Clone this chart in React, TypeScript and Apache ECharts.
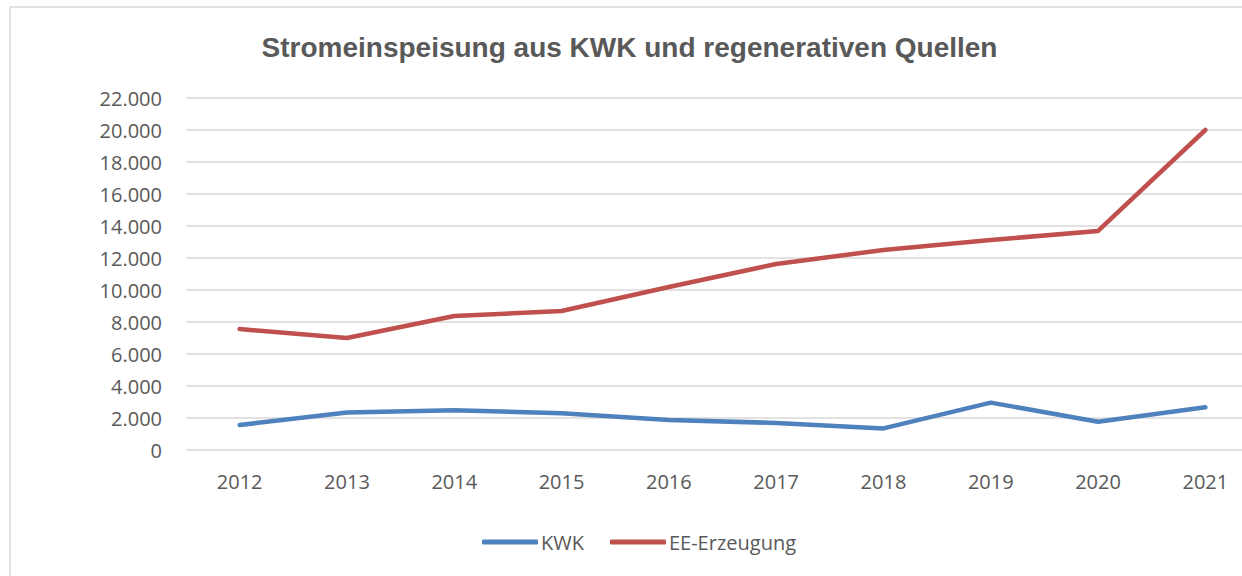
import React, { useEffect, useRef } from "react";
import * as echarts from "echarts";

const years = ["2012", "2013", "2014", "2015", "2016", "2017", "2018", "2019", "2020", "2021"];
const kwk = [1560, 2350, 2480, 2300, 1875, 1690, 1350, 2960, 1770, 2670];
const ee = [7560, 7000, 8375, 8690, 10190, 11625, 12500, 13125, 13690, 20000];
const title = "Stromeinspeisung aus KWK und regenerativen Quellen";

const fmt = (v: number) => String(v).replace(/\B(?=(\d{3})+(?!\d))/g, ".");

export default function App() {
  const ref = useRef<HTMLDivElement>(null);
  useEffect(() => {
    const chart = echarts.init(ref.current!, null, { renderer: "svg" });
    const labelFont = "Open Sans";
    chart.setOption({
      animation: false,
      backgroundColor: "#ffffff",
      title: {
        text: title,
        left: "center",
        top: 28,
        textStyle: { fontFamily: "Liberation Sans", fontSize: 28, fontWeight: "bold", color: "#595959" },
      },
      graphic: [
        {
          type: "rect",
          shape: { x: 10, y: 7, width: 1300, height: 620 },
          style: { fill: "none", stroke: "#d9d9d9", lineWidth: 1.5 },
          silent: true,
        },
      ],
      legend: {
        top: 527,
        left: 477,
        itemWidth: 56,
        itemHeight: 5,
        itemGap: 26,
        icon: "roundRect",
        textStyle: { fontFamily: labelFont, fontSize: 20, color: "#595959", padding: [0, 0, 0, -2] },
        data: ["KWK", "EE-Erzeugung"],
      },
      grid: { left: 186, right: 0, top: 98, bottom: 126 },
      xAxis: {
        type: "category",
        data: years,
        boundaryGap: true,
        axisLine: { show: false },
        axisTick: { show: false },
        axisLabel: { fontFamily: labelFont, fontSize: 20, color: "#595959", margin: 21 },
      },
      yAxis: {
        type: "value",
        min: 0,
        max: 22000,
        interval: 2000,
        axisLine: { show: false },
        axisTick: { show: false },
        axisLabel: { fontFamily: labelFont, fontSize: 20, color: "#595959", margin: 24, formatter: fmt },
        splitLine: { lineStyle: { color: "#d9d9d9", width: 1.5 } },
      },
      series: [
        {
          name: "KWK",
          type: "line",
          data: kwk,
          symbol: "none",
          color: "#4F81BD",
          lineStyle: { width: 4.5, cap: "round", join: "round" },
        },
        {
          name: "EE-Erzeugung",
          type: "line",
          data: ee,
          symbol: "none",
          color: "#C0504D",
          lineStyle: { width: 4.5, cap: "round", join: "round" },
        },
      ],
    });
    return () => chart.dispose();
  }, []);
  return (
    <div style={{ position: "fixed", left: 0, top: 0, width: 1242, height: 576, overflow: "hidden" }}>
      <div ref={ref} style={{ width: 1259, height: 576 }} />
    </div>
  );
}
